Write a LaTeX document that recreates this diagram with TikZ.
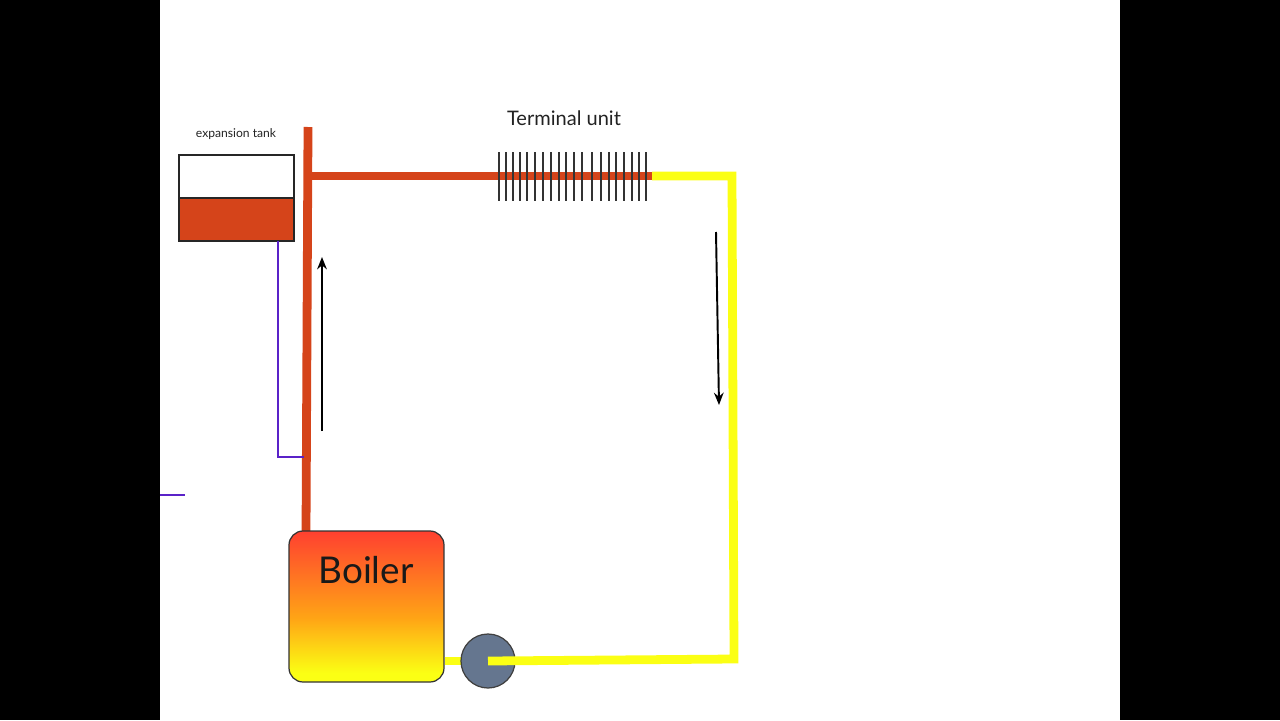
\documentclass[tikz,border=0pt]{standalone}
\usepackage{fontspec}
\setmainfont{Lato}
\usetikzlibrary{arrows.meta}
\definecolor{hotpipe}{HTML}{D5441A}
\definecolor{coldpipe}{HTML}{FBFF14}
\definecolor{fillpipe}{HTML}{5A22C8}
\definecolor{pumpgray}{HTML}{65768F}
\definecolor{labelgray}{HTML}{222222}
\definecolor{fademid}{HTML}{FFA515}
\definecolor{fadetop}{HTML}{FF4030}
\pgfdeclareverticalshading{boilerfade}{100bp}{color(0bp)=(coldpipe); color(28bp)=(coldpipe); color(46bp)=(fademid); color(75bp)=(fadetop); color(100bp)=(fadetop)}
\newlength{\pxu}
\setlength{\pxu}{0.02cm}
\tikzset{
  hot/.style={draw=hotpipe,line width=5pt},
  cold/.style={draw=coldpipe,line width=5pt},
  feed/.style={draw=fillpipe,line width=1.5pt},
  flow/.style={draw=black,line width=1.1pt,-{Stealth[length=7pt,width=5.5pt]}},
  fin/.style={fill=black!80},
  tankbox/.style={draw=black!85,line width=0.6pt,minimum width=115\pxu,minimum height=43\pxu,inner sep=0pt}
}
\begin{document}
\begin{tikzpicture}[x=0.02cm,y=-0.02cm]
\useasboundingbox (0,0) rectangle (1280,720);
\fill [black] (0,0) rectangle (160,720);
\fill [black] (1120,0) rectangle (1280,720);

\coordinate(rt) at (308,127);
\coordinate(rb) at (306,533);
\coordinate(rj) at (308,176);
\coordinate(ye) at (652,176);
\coordinate(yc) at (732,176);
\coordinate(yd) at (734,659);
\coordinate(ft) at (278,241);
\coordinate(fc) at (278,457);
\coordinate(fr) at (304,457);
\coordinate(ll) at (160,495);
\coordinate(lr) at (185,495);
\coordinate(us) at (322,431);
\coordinate(ue) at (322,257);
\coordinate(ds) at (716,232);
\coordinate(de) at (719,405);

\node [tankbox,fill=white] (tanktop) at (236.5,176.5) {};
\node [tankbox,fill=hotpipe] (tankbot) at (236.5,219.5) {};
\node [font=\fontsize{6.9pt}{8pt}\selectfont,text=labelgray] (tanklabel) at (236,134) {expansion tank};
\node [font=\fontsize{11.4pt}{13pt}\selectfont,text=labelgray] (unitlabel) at (564,118) {Terminal unit};

\draw [hot] (rt) -- (rb);
\draw [feed] (ft) -- (fc) -- (fr);
\draw [feed] (ll) -- (lr);
\draw [hot] (rj) -- (ye);

\foreach \x in {498,505,512,519,526,534,542,550,558,565,573,581,591,600,608,615,623,631,638,645}
       \fill [fin] (\x,152) rectangle (\x+2,201);

\node [draw=black!80,line width=0.7pt,rounded corners=8pt,minimum width=155\pxu,minimum height=151\pxu,
       inner sep=0pt,shading=boilerfade] (boiler) at (366.5,606.5) {};
\node [font=\fontsize{21pt}{23pt}\selectfont,text=black!90] (boilerlabel) at (366,570) {Boiler};

\draw [cold] (boiler.east |- 0,661) -- (470,661);
\node [circle,draw=black!75,line width=0.7pt,fill=pumpgray,minimum size=54\pxu,inner sep=0pt] (pump) at (488,661) {};
\draw [cold,line join=miter] (pump.center) -- (yd) -- (yc) -- (ye);

\draw [flow] (us) -- (ue);
\draw [flow] (ds) -- (de);
\end{tikzpicture}
\end{document}
